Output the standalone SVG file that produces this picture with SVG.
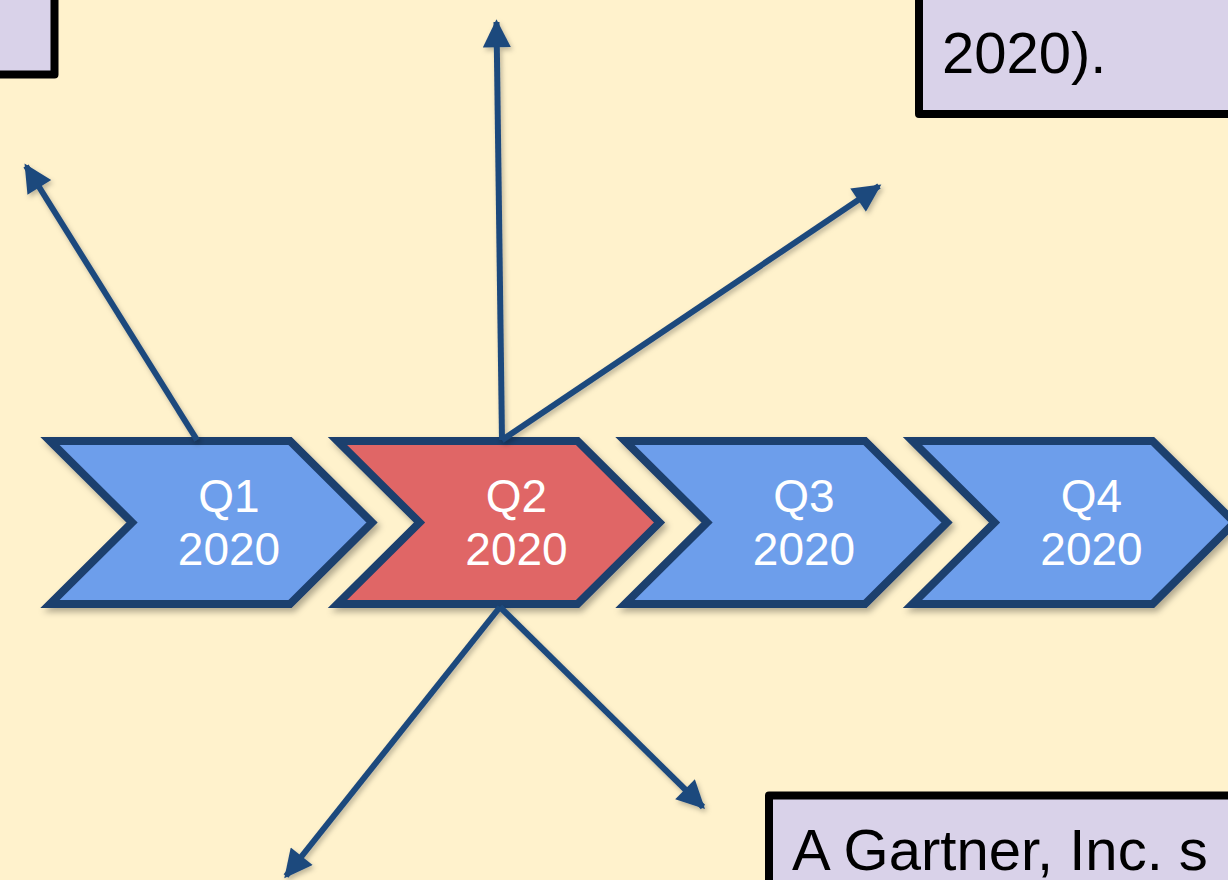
<svg xmlns="http://www.w3.org/2000/svg" width="1228" height="880" viewBox="0 0 1228 880">
  <style>
    .box { fill: #D9D2E9; stroke: #000000; stroke-width: 8; stroke-linejoin: round; }
    .boxtext { font-family: "Liberation Sans", Arial, sans-serif; font-size: 58px; fill: #000000; }
    .chev { stroke: #1F3F6E; stroke-width: 8; stroke-linejoin: miter; filter: url(#shadow); }
    .blue { fill: #6D9EEB; }
    .red { fill: #E06666; }
    .label { font-family: "Liberation Sans", Arial, sans-serif; font-size: 46px; fill: #FFFFFF; text-anchor: middle; }
    .conn { stroke: #1F497D; stroke-width: 6; fill: none; marker-end: url(#arrow); }
  </style>
  <defs>
    <filter id="shadow" filterUnits="userSpaceOnUse" x="0" y="0" width="1228" height="880">
      <feDropShadow dx="3" dy="4" stdDeviation="3" flood-color="#000000" flood-opacity="0.3"/>
    </filter>
    <filter id="shadow2" filterUnits="userSpaceOnUse" x="0" y="0" width="1228" height="880">
      <feDropShadow dx="2" dy="3" stdDeviation="2.5" flood-color="#000000" flood-opacity="0.25"/>
    </filter>
    <marker id="arrow" viewBox="0 0 10 10" refX="9" refY="5" markerUnits="userSpaceOnUse" markerWidth="30" markerHeight="28" orient="auto">
      <path d="M0,0 L10,5 L0,10 Z" fill="#1F497D"/>
    </marker>
  </defs>

  <rect x="0" y="0" width="1228" height="880" fill="#FFF2CC"/>

  <g id="box-top-left">
    <rect class="box" x="-30" y="-30" width="84.5" height="104.5"/>
  </g>
  <g id="box-top-right">
    <rect class="box" x="919" y="-30" width="340" height="144"/>
    <text class="boxtext" x="942" y="73">2020).</text>
  </g>
  <g id="box-bottom-right">
    <rect class="box" x="769" y="795.5" width="500" height="140"/>
    <text class="boxtext" x="792" y="870">A Gartner, Inc. s</text>
  </g>

  <g id="q1">
    <polygon class="chev blue" points="50,441 290,441 372,522.5 290,604 50,604 132,522.5"/>
    <text class="label" x="229" y="512">Q1</text>
    <text class="label" x="229" y="565">2020</text>
  </g>
  <g id="q2">
    <polygon class="chev red" points="337.5,441 577.5,441 659.5,522.5 577.5,604 337.5,604 419.5,522.5"/>
    <text class="label" x="516.5" y="512">Q2</text>
    <text class="label" x="516.5" y="565">2020</text>
  </g>
  <g id="q3">
    <polygon class="chev blue" points="625,441 865,441 947,522.5 865,604 625,604 707,522.5"/>
    <text class="label" x="804" y="512">Q3</text>
    <text class="label" x="804" y="565">2020</text>
  </g>
  <g id="q4">
    <polygon class="chev blue" points="912.5,441 1152.5,441 1234.5,522.5 1152.5,604 912.5,604 994.5,522.5"/>
    <text class="label" x="1091.5" y="512">Q4</text>
    <text class="label" x="1091.5" y="565">2020</text>
  </g>

  <g id="connectors" filter="url(#shadow2)">
    <line class="conn" x1="197" y1="440" x2="26" y2="166"/>
    <line class="conn" x1="502" y1="440" x2="496.5" y2="22"/>
    <line class="conn" x1="502" y1="440" x2="879" y2="186"/>
    <line class="conn" x1="500" y1="607" x2="286" y2="876"/>
    <line class="conn" x1="500" y1="607" x2="703" y2="807"/>
  </g>
</svg>
